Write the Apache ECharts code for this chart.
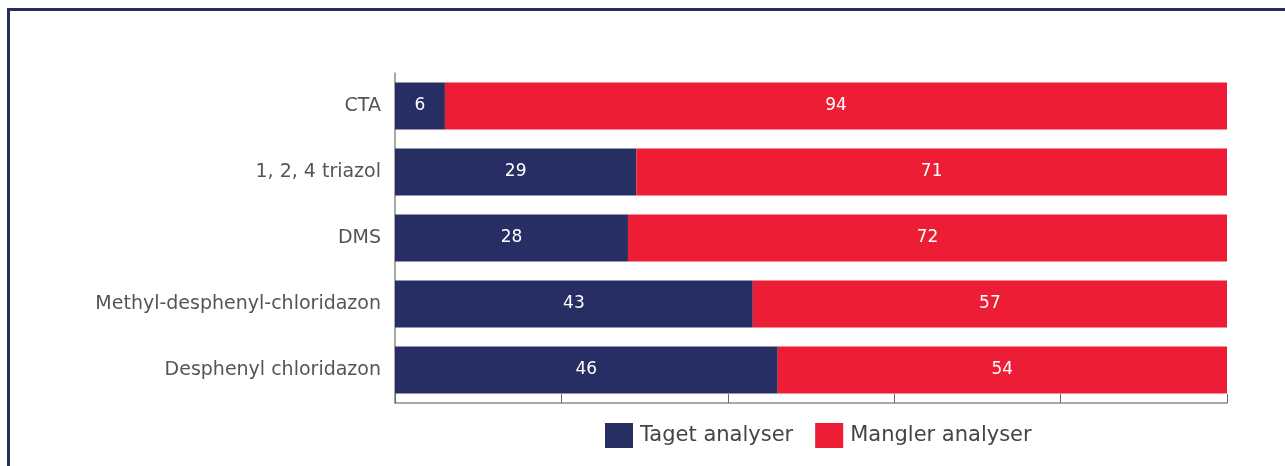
<!DOCTYPE html>
<html>
<head>
<meta charset="utf-8">
<script src="https://cdn.jsdelivr.net/npm/echarts@6/dist/echarts.min.js"></script>
<style>
html,body{margin:0;padding:0;background:#fff;overflow:hidden;}
#chart{position:absolute;left:0;top:0;width:1285px;height:466px;}
#frame{position:absolute;left:7px;top:8px;width:1400px;height:600px;border:3px solid #262C60;box-sizing:border-box;pointer-events:none;}
</style>
</head>
<body>
<div id="chart"></div>
<div id="frame"></div>
<script>
const categories = ["CTA", "1, 2, 4 triazol", "DMS", "Methyl-desphenyl-chloridazon", "Desphenyl chloridazon"];
const seriesNames = ["Taget analyser", "Mangler analyser"];
const taget = [6, 29, 28, 43, 46];
const mangler = [94, 71, 72, 57, 54];

const FONT = "DejaVu Sans";
const chart = echarts.init(document.getElementById('chart'), null, {renderer: 'canvas'});
chart.setOption({
  animation: false,
  textStyle: {fontFamily: FONT},
  grid: {left: 395, right: 58, top: 73, bottom: 63, containLabel: false},
  legend: {
    top: 423,
    left: 605,
    padding: 0,
    itemWidth: 28,
    itemHeight: 25,
    itemGap: 22,
    icon: 'rect',
    textStyle: {fontFamily: FONT, fontSize: 21, color: '#444', padding: [0,0,0,2]},
    data: seriesNames
  },
  xAxis: {
    type: 'value',
    min: 0, max: 100, interval: 20,
    axisLabel: {show: false},
    splitLine: {show: false},
    axisLine: {show: true, lineStyle: {color: '#8a8a8a', width: 1.5}},
    axisTick: {show: true, inside: true, length: 9, lineStyle: {color: '#666', width: 1}}
  },
  yAxis: {
    type: 'category',
    inverse: true,
    data: categories,
    axisLine: {show: true, lineStyle: {color: '#8a8a8a', width: 1.5}},
    axisTick: {show: false},
    axisLabel: {fontFamily: FONT, fontSize: 19, color: '#555', margin: 14}
  },
  series: [
    {
      name: seriesNames[0], type: 'bar', stack: 'a', barWidth: 47,
      itemStyle: {color: '#262E64'},
      label: {show: true, position: 'inside', color: '#fff', fontSize: 17, fontFamily: FONT},
      data: taget
    },
    {
      name: seriesNames[1], type: 'bar', stack: 'a', barWidth: 47,
      itemStyle: {color: '#EC1D35'},
      label: {show: true, position: 'inside', color: '#fff', fontSize: 17, fontFamily: FONT},
      data: mangler
    }
  ]
});
</script>
</body>
</html>
